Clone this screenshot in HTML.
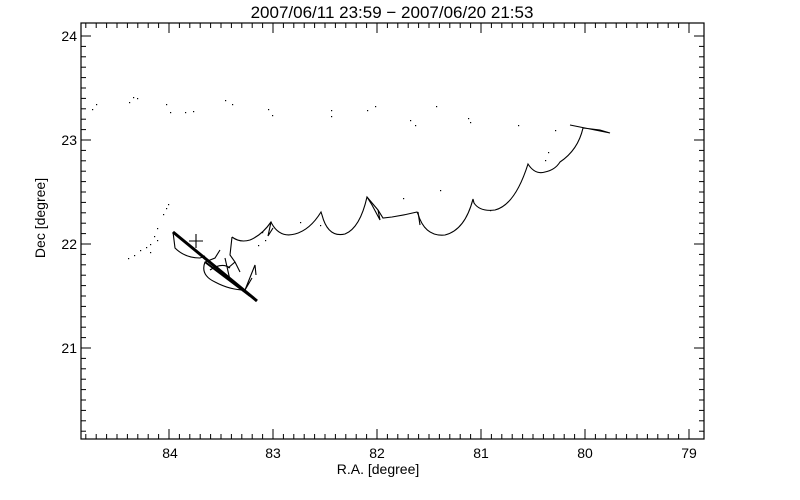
<!DOCTYPE html>
<html><head><meta charset="utf-8"><style>
html,body{margin:0;padding:0;background:#fff;}
svg{display:block;}
text{font-family:"Liberation Sans","DejaVu Sans",sans-serif;fill:#000;}
</style></head><body>
<svg id="s" width="800" height="500" xmlns="http://www.w3.org/2000/svg">
<rect width="800" height="500" fill="#fff"/>
<text x="392" y="18" font-size="17" text-anchor="middle">2007/06/11 23:59 − 2007/06/20 21:53</text>
<rect x="81" y="23" width="623" height="416" fill="none" stroke="#000" stroke-width="1.2"/>
<g id="ticks" stroke="#000" stroke-width="1"></g>
<g font-size="14" text-anchor="middle">
<text x="170" y="458">84</text><text x="273" y="458">83</text><text x="377" y="458">82</text>
<text x="481" y="458">81</text><text x="585" y="458">80</text><text x="689" y="458">79</text>
</g>
<g font-size="14" text-anchor="end">
<text x="77" y="41">24</text><text x="77" y="145">23</text><text x="77" y="249">22</text><text x="77" y="353">21</text>
</g>
<text x="378" y="474" font-size="14" text-anchor="middle">R.A. [degree]</text>
<text transform="translate(45,218) rotate(-90)" font-size="14" text-anchor="middle">Dec [degree]</text>
<g fill="none" stroke="#000" stroke-width="1.1">
<path d="M232,237 Q240,243 250,240 Q262,235 271,222 L272,224 Q280,238 295,234 Q310,230 321,212 L322,215 Q328,238 345,234 Q360,228 367,197 L378,210 L383,218 L392,217 Q405,215 417,212 L418,214 Q425,237 445,235 Q465,230 473,199 L474,203 Q480,212 495,210 Q515,205 528,164 Q535,175 545,172 Q555,170 560,162 Q578,150 583,128 L600,130 L610,133 L585,128 L570,125"/>
<path d="M367,197 L372,205 L380,220 L378,210"/>
<path d="M418,212 L420,225"/>
<path d="M271,222 L268,236 L273,228"/>
<path d="M173,232 L175,248 Q185,258 200,258 L205,256"/>
<path d="M196,234 L196,248 M189,241 L203,241"/>
<path d="M232,237 L230,255 L235,262 L228,268 M235,262 L240,272 M220,250 L215,258 L205,262 Q200,275 215,282 Q230,290 245,290"/>
<path d="M225,258 L230,280 L245,290 L255,265 L256,275 M245,290 L252,278"/>
<path d="M210,270 Q222,262 230,268"/>
</g>
<path d="M173,232 L257,301" stroke="#000" stroke-width="3" fill="none"/>
<path d="M205,262 L250,296" stroke="#000" stroke-width="2" fill="none"/>
<g id="dots" fill="#000"></g>
</svg>
<script>
var t=document.getElementById('ticks'),h='';
function L(a,b,c,d){h+='<line x1="'+a+'" y1="'+b+'" x2="'+c+'" y2="'+d+'"/>';}
for(var v=79;v<=84.85;v+=0.1){var x=689-(v-79)*104;if(x<81.5||x>703.5)continue;var m=Math.abs(v-Math.round(v))<0.01;var l=m?10:5;L(x,439,x,439-l);L(x,23,x,23+l);}
for(var v=20.2;v<=24.1;v+=0.1){var y=36+(24-v)*104;if(y<23.5||y>438.5)continue;var m=Math.abs(v-Math.round(v))<0.01;var l=m?10:5;L(81,y,81+l,y);L(704,y,704-l,y);}
t.innerHTML=h;
var pts=[[92,109],[96,104],[129,102],[133,97],[137,98],[166,104],[170,112],[185,112],[193,111],[225,100],[232,104],[268,109],[272,115],[331,110],[331,116],[367,110],[375,106],[410,120],[415,125],[436,106],[468,118],[470,122],[518,125],[548,152],[545,160],[555,130],[440,190],[403,198],[128,258],[134,255],[140,250],[146,247],[150,244],[154,236],[157,228],[163,214],[166,208],[168,204],[150,252],[157,240],[262,232],[265,240],[258,245],[300,222],[320,225],[490,210]];
var d='';pts.forEach(function(p){d+='<rect x="'+p[0]+'" y="'+p[1]+'" width="1.2" height="1.2"/>';});
document.getElementById('dots').innerHTML=d;
</script>
</body></html>
